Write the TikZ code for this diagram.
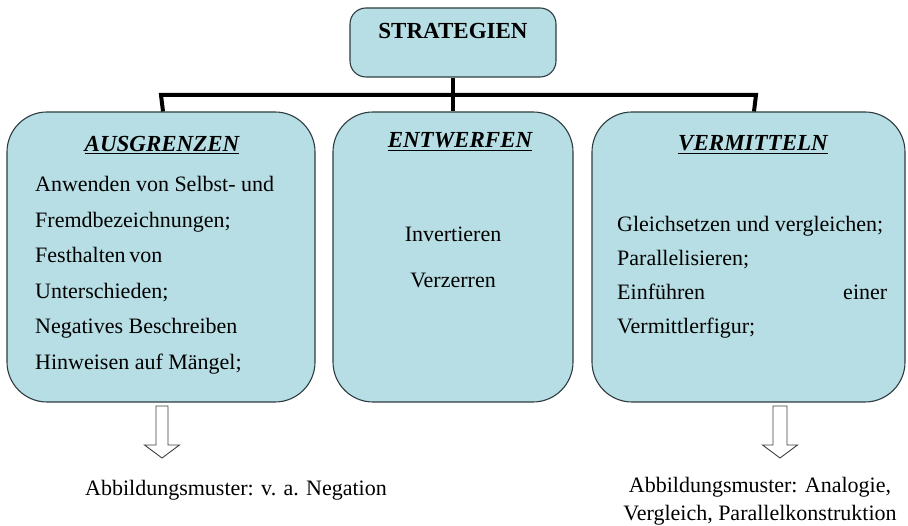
\documentclass[tikz,border=0pt]{standalone}
\usepackage{fontspec}
\newfontfamily\tnr{Liberation Serif}
\newfontfamily\tnrb{Liberation Serif Bold}
\newfontfamily\tnrbi{Liberation Serif Bold Italic}
\begin{document}
\begin{tikzpicture}[x=1pt,y=-1pt,
  box/.style={draw=boxline,line width=1.1pt,fill=boxfill,rounded corners=40pt,inner sep=0pt,minimum height=290pt},
  conn/.style={line width=4pt,black},
  txt/.style={font=\tnr\fontsize{22}{26}\selectfont,inner sep=0pt,anchor=base west},
  ctxt/.style={font=\tnr\fontsize{22}{26}\selectfont,inner sep=0pt,anchor=base},
  head/.style={font=\tnrbi\fontsize{23}{26}\selectfont,inner sep=0pt,anchor=base},
  barrow/.style={draw=black!75,line width=0.9pt,fill=white}]
\definecolor{boxfill}{RGB}{183,222,228}
\definecolor{boxline}{RGB}{45,60,64}
\useasboundingbox (0,0) rectangle (908,526);
% boxes
\node[box,rounded corners=16pt,minimum width=206pt,minimum height=69pt] (T) at (453,42.5) {};
\node[box,minimum width=308pt] (L) at (161,257) {};
\node[box,minimum width=240pt] (M) at (453,257) {};
\node[box,minimum width=313pt] (R) at (748.5,257) {};
% connectors
\coordinate (jl) at (163,95);
\coordinate (jr) at (754,95);
\draw[conn] (T.south) -- (M.north);
\draw[conn] (jl |- L.north) -- ([xshift=-2pt]jl) -- ([xshift=2pt]jr) -- (jr |- R.north);
% titles
\node[font=\tnrb\fontsize{23}{26}\selectfont,inner sep=0pt,anchor=base] (tT) at (453,39) {STRATEGIEN};
\node[head] (hL) at (162,152) {\underline{AUSGRENZEN}};
\node[head] (hM) at (460,148) {\underline{ENTWERFEN}};
\node[head] (hR) at (753,151) {\underline{VERMITTELN}};
% left texts
\node[txt] (l1) at (35,192) {Anwenden von Selbst- und};
\node[txt] (l2) at (35,227.5) {Fremdbezeichnungen;};
\node[txt] (l3) at (35,263) {Festhalten\,von};
\node[txt] (l4) at (35,298.5) {Unterschieden;};
\node[txt] (l5) at (35,334) {Negatives Beschreiben};
\node[txt] (l6) at (35,369.5) {Hinweisen auf Mängel;};
% middle texts
\node[ctxt] (m1) at (453,242) {Invertieren};
\node[ctxt] (m2) at (453,288) {Verzerren};
% right texts
\node[txt] (r1) at (617,232) {Gleichsetzen und vergleichen;};
\node[txt] (r2) at (617,266) {Parallelisieren;};
\node[txt] (r3) at (617,300) {\makebox[270pt][s]{Einführen\hfill einer}};
\node[txt] (r4) at (617,334) {Vermittlerfigur;};
% bottom texts
\node[ctxt] (bL) at (236,496) {Abbildungsmuster: v. a. Negation};
\node[ctxt] (bR1) at (760,493) {Abbildungsmuster: Analogie,};
\node[ctxt] (bR2) at (760,520) {Vergleich, Parallelkonstruktion};
% block arrows
\draw[barrow] (156,406) -- (168,406) -- (168,445) -- (179.5,445) -- (162,458) -- (144.5,445) -- (156,445) -- cycle;
\draw[barrow] (773,406) -- (787,406) -- (787,445) -- (797.5,445) -- (780,458) -- (762.5,445) -- (773,445) -- cycle;
\end{tikzpicture}
\end{document}
